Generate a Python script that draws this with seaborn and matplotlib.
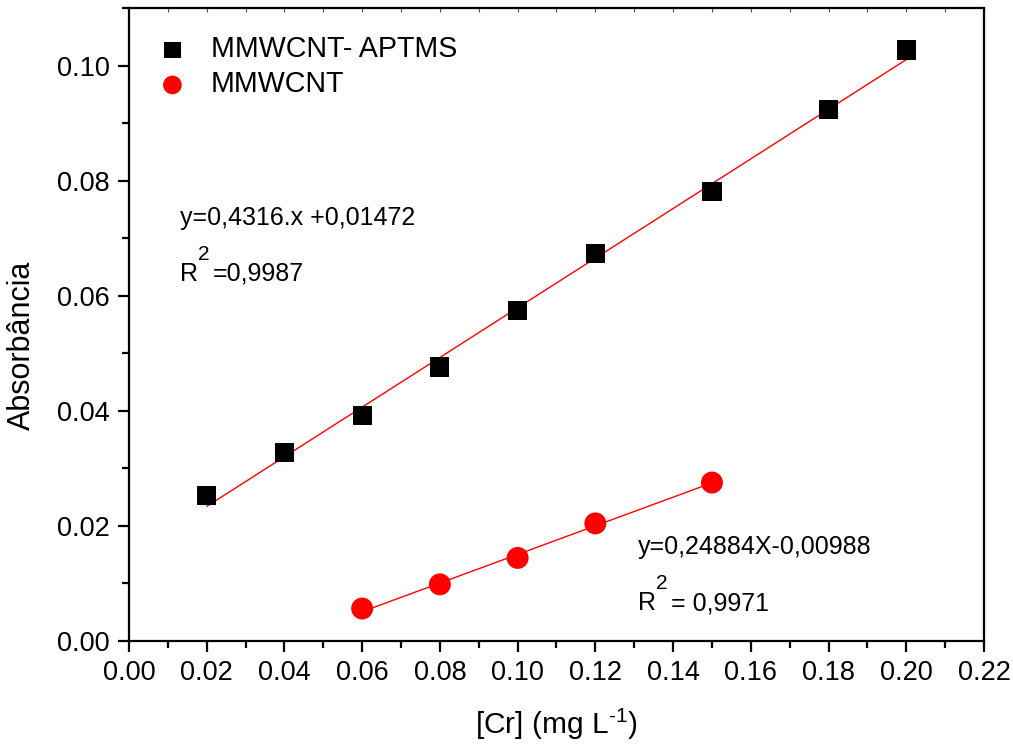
import numpy as np
import pandas as pd
import matplotlib
matplotlib.use("Agg")
import matplotlib.pyplot as plt
import matplotlib.transforms as mtransforms
import seaborn as sns
from matplotlib.ticker import MultipleLocator, FormatStrFormatter

# data
x_aptms = [0.02, 0.04, 0.06, 0.08, 0.10, 0.12, 0.15, 0.18, 0.20]
y_aptms = [0.0253, 0.0328, 0.0391, 0.0476, 0.0574, 0.0673, 0.0781, 0.0923, 0.1027]
x_mwcnt = [0.06, 0.08, 0.10, 0.12, 0.15]
y_mwcnt = [0.0056, 0.0098, 0.0144, 0.0204, 0.0275]
fit_aptms = (0.4316, 0.01472)
fit_mwcnt = (0.24884, -0.00988)
label_aptms = "MMWCNT- APTMS"
label_mwcnt = "MMWCNT"
eq_aptms = "y=0,4316.x +0,01472"
r2_aptms = ("R", "2", "=0,9987")
eq_mwcnt = "y=0,24884X-0,00988"
r2_mwcnt = ("R", "2", "= 0,9971")

sns.set_theme(style="ticks")
plt.rcParams['font.family'] = ['Liberation Sans', 'DejaVu Sans']
plt.rcParams['mathtext.fontset'] = 'custom'
plt.rcParams['mathtext.rm'] = 'Liberation Sans'
plt.rcParams['mathtext.it'] = 'Liberation Sans'
for k in ['text.color', 'axes.labelcolor', 'xtick.color', 'ytick.color', 'axes.edgecolor']:
    plt.rcParams[k] = 'black'

fig = plt.figure(figsize=(10.13, 7.44), dpi=100)
ax = fig.add_axes([0.1273, 0.1388, 0.9714 - 0.1273, 0.9892 - 0.1388])

df1 = pd.DataFrame({"x": x_aptms, "y": y_aptms})
df2 = pd.DataFrame({"x": x_mwcnt, "y": y_mwcnt})

# fit lines
xl1 = np.array([min(x_aptms), max(x_aptms)])
xl2 = np.array([min(x_mwcnt), max(x_mwcnt)])
sns.lineplot(x=xl1, y=fit_aptms[0] * xl1 + fit_aptms[1], ax=ax, color="red", lw=1.0, zorder=2)
sns.lineplot(x=xl2, y=fit_mwcnt[0] * xl2 + fit_mwcnt[1], ax=ax, color="red", lw=1.0, zorder=2)

sns.scatterplot(data=df1, x="x", y="y", ax=ax, marker="s", s=190, color="black",
                edgecolor="none", label=label_aptms, zorder=3)
sns.scatterplot(data=df2, x="x", y="y", ax=ax, marker="o", s=250, color="red",
                edgecolor="none", label=label_mwcnt, zorder=3)

ax.set_xlim(0, 0.22)
ax.set_ylim(0, 0.11)
ax.xaxis.set_major_locator(MultipleLocator(0.02))
ax.xaxis.set_minor_locator(MultipleLocator(0.01))
ax.yaxis.set_major_locator(MultipleLocator(0.02))
ax.yaxis.set_minor_locator(MultipleLocator(0.01))
ax.xaxis.set_major_formatter(FormatStrFormatter("%.2f"))
ax.yaxis.set_major_formatter(FormatStrFormatter("%.2f"))

for s in ax.spines.values():
    s.set_linewidth(1.6)
    s.set_color("black")
    s.set_visible(True)

ax.tick_params(axis="both", which="major", direction="out", length=8, width=1.6,
               labelsize=19.5, colors="black", pad=6)
ax.tick_params(axis="both", which="minor", direction="out", length=5, width=1.6, colors="black")
ax.tick_params(axis="x", which="both", top=False)

# faint inward ticks along the top edge
sec = ax.secondary_xaxis("top")
sec.xaxis.set_major_locator(MultipleLocator(0.01))
sec.tick_params(direction="in", length=3, width=0.8, colors="#555555", labeltop=False)
sec.spines["top"].set_visible(False)

ax.set_xlabel("[Cr] (mg L$^{\mathregular{\u2010}1}$)", fontsize=21.5, labelpad=15)
ax.set_ylabel("Absorbância", fontsize=22)
ax.yaxis.set_label_coords(-0.1076, 0.467)

leg = ax.legend(loc="upper left", bbox_to_anchor=(0.004, 0.975), borderaxespad=0,
                frameon=False, fontsize=20.6, handletextpad=0.35, labelspacing=0.25,
                markerscale=0.85)


def r2_text(x, y, parts, up):
    base, sup, rest = parts
    ax.text(x, y, base, fontsize=18, va="center", ha="left")
    tr_sup = mtransforms.offset_copy(ax.transData, fig=fig, x=13, y=up, units="points")
    ax.text(x, y, sup, fontsize=15, va="center", ha="left", transform=tr_sup)
    tr_rest = mtransforms.offset_copy(ax.transData, fig=fig, x=23.5, y=0, units="points")
    ax.text(x, y, rest, fontsize=18, va="center", ha="left", transform=tr_rest)


ax.text(0.0132, 0.0735, eq_aptms, fontsize=18, va="center", ha="left")
r2_text(0.0132, 0.0638, r2_aptms, 13.7)
ax.text(0.131, 0.0163, eq_mwcnt, fontsize=18, va="center", ha="left")
r2_text(0.131, 0.0065, r2_mwcnt, 14.2)

fig.savefig("out.png", dpi=100)
